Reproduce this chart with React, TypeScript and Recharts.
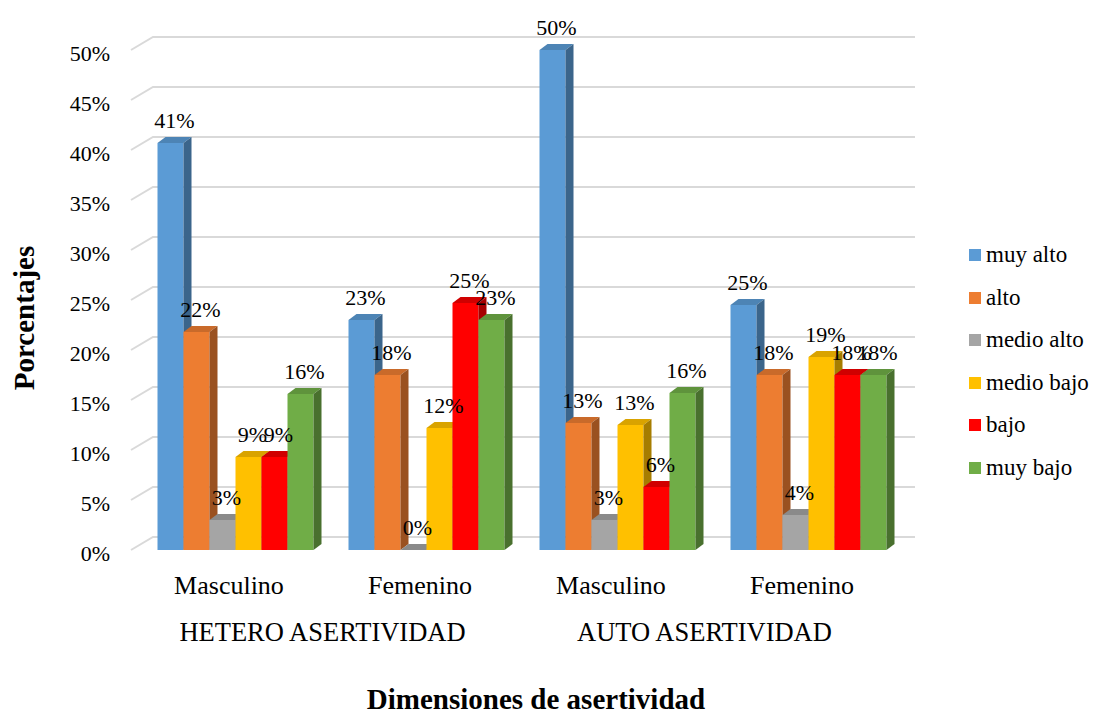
import { Bar, BarChart, CartesianGrid, LabelList, Legend, XAxis, YAxis } from 'recharts'

const categories = ['Masculino', 'Femenino', 'Masculino', 'Femenino']
const groups = ['HETERO ASERTIVIDAD', 'HETERO ASERTIVIDAD', 'AUTO ASERTIVIDAD', 'AUTO ASERTIVIDAD']

// percentages (labels are rounded)
const muyAlto = [40.7, 23.0, 50.0, 24.5]
const alto = [21.8, 17.5, 12.7, 17.5]
const medioAlto = [3.0, 0, 3.0, 3.5]
const medioBajo = [9.3, 12.2, 12.5, 19.3]
const bajo = [9.3, 24.7, 6.3, 17.5]
const muyBajo = [15.6, 23.0, 15.7, 17.5]

const yTicks = [0, 5, 10, 15, 20, 25, 30, 35, 40, 45, 50]

const FONT = 'Liberation Serif, Times New Roman, serif'
const DX = 8
const DY = 6

type Series = { key: string; name: string; values: number[]; front: string; top: string; side: string }

const series: Series[] = [
  { key: 'muyAlto', name: 'muy alto', values: muyAlto, front: '#5B9BD5', top: '#4d84b5', side: '#3b658b' },
  { key: 'alto', name: 'alto', values: alto, front: '#ED7D31', top: '#c96a2a', side: '#9a5120' },
  { key: 'medioAlto', name: 'medio alto', values: medioAlto, front: '#A5A5A5', top: '#8a8a8a', side: '#6b6b6b' },
  { key: 'medioBajo', name: 'medio bajo', values: medioBajo, front: '#FFC000', top: '#d9a300', side: '#a67d00' },
  { key: 'bajo', name: 'bajo', values: bajo, front: '#FF0000', top: '#d00000', side: '#a60000' },
  { key: 'muyBajo', name: 'muy bajo', values: muyBajo, front: '#70AD47', top: '#5f933c', side: '#49702e' },
]

const data = categories.map((name, i) => {
  const row: Record<string, string | number> = { name, group: groups[i] }
  series.forEach((s) => {
    row[s.key] = s.values[i]
  })
  return row
})

const make3DBar = (s: Series) => (props: any) => {
  const { x, y, width, height } = props
  if (x == null || y == null) return <g />
  const h = Math.max(0, height || 0)
  return (
    <g>
      <rect x={x} y={y} width={width} height={h} fill={s.front} />
      <polygon
        points={`${x},${y} ${x + DX},${y - DY} ${x + width + DX},${y - DY} ${x + width},${y}`}
        fill={s.top}
      />
      <polygon
        points={`${x + width},${y} ${x + width + DX},${y - DY} ${x + width + DX},${y + h - DY} ${x + width},${y + h}`}
        fill={s.side}
      />
    </g>
  )
}

const renderValueLabel = (props: any) => {
  const { x, y, width, value } = props
  return (
    <text x={x + width / 2 + 4} y={y - 15} textAnchor="middle" fontSize={22} fontFamily={FONT} fill="#000">
      {Math.round(Number(value))}%
    </text>
  )
}

const gridLine = (props: any) => {
  const { x1, x2, y1 } = props
  return (
    <polyline
      key={`grid-${y1}`}
      points={`${x1 - 8.5},${y1} ${x1 + 13.5},${y1 - 13} ${x2 + 11.5},${y1 - 13}`}
      fill="none"
      stroke="#d9d9d9"
      strokeWidth={2}
    />
  )
}

const YTick = (props: any) => {
  const { y, payload } = props
  return (
    <text x={110} y={y + 11} textAnchor="end" fontSize={22} fontFamily={FONT} fill="#000">
      {payload.value}%
    </text>
  )
}

const CategoryTick = (props: any) => {
  const { x, payload } = props
  return (
    <text x={x - 6} y={594} textAnchor="middle" fontSize={26} fontFamily={FONT} fill="#000">
      {payload.value}
    </text>
  )
}

const GroupTick = (props: any) => {
  const { x, payload } = props
  return (
    <text x={x - 8} y={641} textAnchor="middle" fontSize={26.5} fontFamily={FONT} fill="#000">
      {payload.value}
    </text>
  )
}

const renderLegend = () => (
  <div style={{ fontFamily: FONT, fontSize: 23, color: '#000' }}>
    {series.map((s) => (
      <div key={s.key} style={{ display: 'flex', alignItems: 'center', height: 42.5, whiteSpace: 'nowrap' }}>
        <span style={{ display: 'inline-block', width: 12, height: 12, background: s.front, marginRight: 5 }} />
        <span>{s.name}</span>
      </div>
    ))}
  </div>
)

export default function App() {
  return (
    <div style={{ position: 'absolute', left: 0, top: 0, width: 1094, height: 715, background: '#fff' }}>
      <BarChart
        width={1094}
        height={715}
        data={data}
        margin={{ top: 50, right: 190.5, bottom: 60, left: 79.5 }}
        barGap={0}
        barSize={26}
      >
        <CartesianGrid vertical={false} horizontal={gridLine} />
        <YAxis
          domain={[0, 50]}
          ticks={yTicks}
          width={60}
          axisLine={false}
          tickLine={false}
          tick={<YTick />}
          interval={0}
        />
        <XAxis dataKey="name" axisLine={false} tickLine={false} height={60} interval={0} tick={<CategoryTick />} />
        <XAxis
          xAxisId="group"
          dataKey="group"
          allowDuplicatedCategory={false}
          axisLine={false}
          tickLine={false}
          height={45}
          interval={0}
          tick={<GroupTick />}
        />
        <Legend
          layout="vertical"
          align="center"
          verticalAlign="middle"
          wrapperStyle={{ position: 'absolute', left: 969, top: 234, width: 125 }}
          content={renderLegend}
        />
        {series.map((s) => (
          <Bar key={s.key} dataKey={s.key} name={s.name} fill={s.front} shape={make3DBar(s)} isAnimationActive={false}>
            <LabelList dataKey={s.key} content={renderValueLabel} />
          </Bar>
        ))}
      </BarChart>
      <svg width={1094} height={715} style={{ position: 'absolute', left: 0, top: 0, pointerEvents: 'none' }}>
        <text
          x={24}
          y={318}
          transform="rotate(-90, 24, 318)"
          textAnchor="middle"
          dominantBaseline="central"
          fontSize={29}
          fontWeight="bold"
          fontFamily={FONT}
          fill="#000"
        >
          Porcentajes
        </text>
        <text x={536} y={709} textAnchor="middle" fontSize={29} fontWeight="bold" fontFamily={FONT} fill="#000">
          Dimensiones de asertividad
        </text>
      </svg>
    </div>
  )
}
